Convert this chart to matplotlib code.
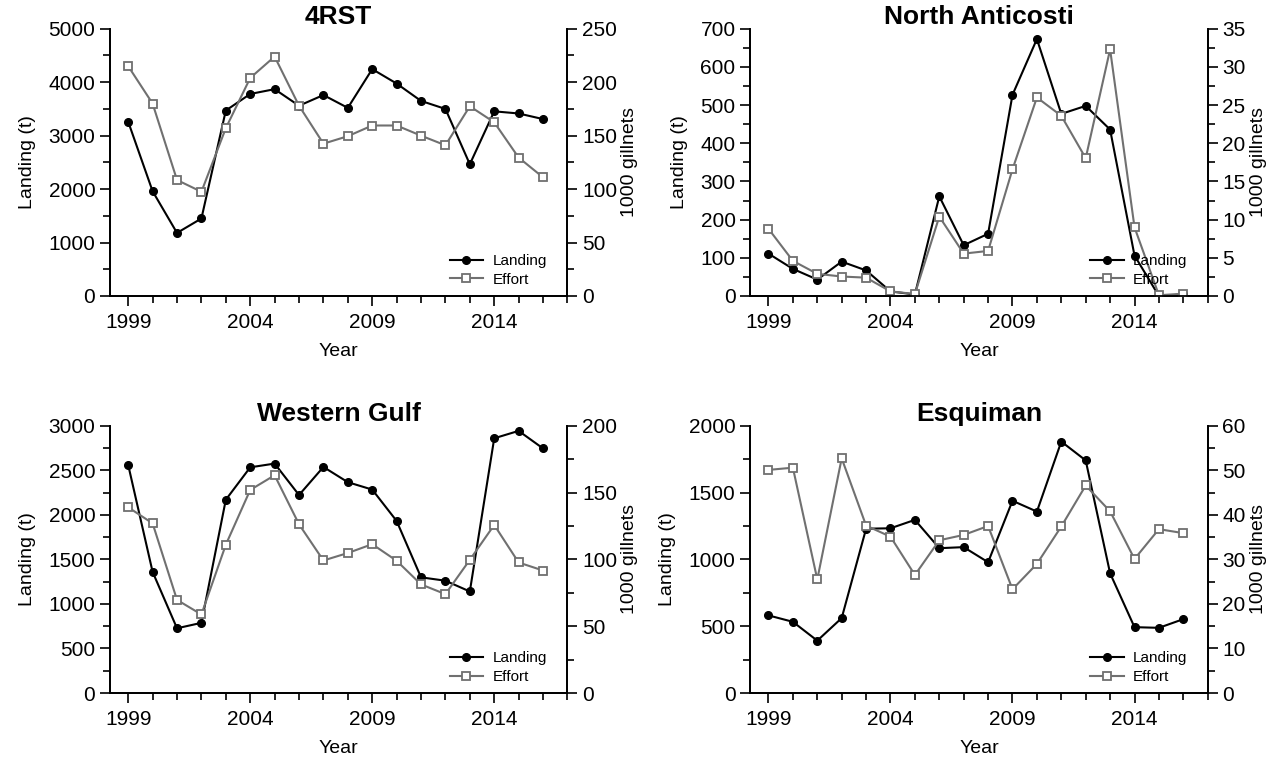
import numpy as np
import matplotlib
matplotlib.use("Agg")
import matplotlib.pyplot as plt
from matplotlib.ticker import MultipleLocator

plt.rcParams['font.family'] = ['Liberation Sans', 'DejaVu Sans']

# Landings (t) and effort (1000 gillnets) per area
years = np.arange(1999, 2017)

land_4rst = [3260, 1960, 1180, 1450, 3470, 3780, 3870, 3560, 3760, 3520,
             4245, 3975, 3650, 3500, 2465, 3455, 3415, 3310]
eff_4rst = [215, 180, 108.5, 97.5, 157, 204, 224, 178, 142.5, 149.5,
            159.5, 159.5, 150, 141, 177.5, 162.5, 129.5, 111]

land_nant = [111, 71, 43, 90, 67, 12, 4, 261, 133, 163,
             527, 673, 477, 498, 436, 106, 0, 4]
eff_nant = [8.8, 4.6, 2.9, 2.55, 2.4, 0.6, 0.26, 10.4, 5.55, 5.9,
            16.6, 26.0, 23.6, 18.05, 32.3, 9.0, 0.1, 0.3]

land_wgulf = [2560, 1360, 727, 788, 2170, 2534, 2576, 2223, 2538, 2367,
              2284, 1932, 1299, 1261, 1140, 2860, 2943, 2746]
eff_wgulf = [139, 127, 69.7, 58.8, 111, 152, 163, 126.3, 99.2, 104.8,
             111.4, 99, 81.3, 74, 99.7, 125.8, 97.7, 91.7]

land_esq = [581, 533, 392, 561, 1230, 1233, 1296, 1084, 1092, 979,
            1439, 1358, 1882, 1741, 896, 493, 488, 553]
eff_esq = [50.1, 50.6, 25.5, 52.7, 37.6, 35.1, 26.5, 34.3, 35.5, 37.5,
           23.3, 29.0, 37.4, 46.6, 40.8, 30.1, 36.8, 35.9]

titles = ['4RST', 'North Anticosti', 'Western Gulf', 'Esquiman']
landings = [land_4rst, land_nant, land_wgulf, land_esq]
efforts = [eff_4rst, eff_nant, eff_wgulf, eff_esq]
left_max = [5000, 700, 3000, 2000]
left_step = [1000, 100, 500, 500]
right_max = [250, 35, 200, 60]
right_step = [50, 5, 50, 10]

# axes positions (left, bottom, width, height) in figure fraction
positions = [[0.086, 0.609, 0.358, 0.353],
             [0.587, 0.609, 0.358, 0.353],
             [0.086, 0.0845, 0.358, 0.353],
             [0.587, 0.0845, 0.358, 0.353]]

fig = plt.figure(figsize=(12.78, 7.57), dpi=100)
gray = '#707070'

for i in range(4):
    ax = fig.add_axes(positions[i])
    ax2 = ax.twinx()

    l1, = ax.plot(years, landings[i], color='black', marker='o', markersize=5.5,
                  linewidth=1.5, label='Landing')
    l2, = ax2.plot(years, efforts[i], color=gray, marker='s', markersize=6,
                   markerfacecolor='white', markeredgecolor=gray,
                   markeredgewidth=1.3, linewidth=1.5, label='Effort')

    ax.set_xlim(1998.25, 2017.0)
    ax.set_ylim(0, left_max[i])
    ax2.set_ylim(0, right_max[i])

    ax.xaxis.set_minor_locator(MultipleLocator(1))
    ax.set_xticks([1999, 2004, 2009, 2014])
    ax.yaxis.set_major_locator(MultipleLocator(left_step[i]))
    ax.yaxis.set_minor_locator(MultipleLocator(left_step[i] / 2))
    ax2.yaxis.set_major_locator(MultipleLocator(right_step[i]))
    ax2.yaxis.set_minor_locator(MultipleLocator(right_step[i] / 2))

    for a in (ax, ax2):
        a.spines['top'].set_visible(False)
        for s in a.spines.values():
            s.set_linewidth(1.3)
        a.tick_params(which='major', direction='out', length=7, width=1.2,
                      labelsize=15)
        a.tick_params(which='minor', direction='out', length=5, width=1.2)
    ax.tick_params(axis='x', which='major', pad=5)

    ax.set_title(titles[i], fontsize=19, fontweight='bold', pad=1)
    ax.set_xlabel('Year', fontsize=14, labelpad=8)
    ax.set_ylabel('Landing (t)', fontsize=14, labelpad=9)
    ax2.set_ylabel('1000 gillnets', fontsize=14, labelpad=3)

    ax2.legend(handles=[l1, l2], loc='lower right', frameon=False,
               fontsize=11, handlelength=2.2, handletextpad=0.6,
               labelspacing=0.3, borderaxespad=0.2,
               bbox_to_anchor=(0.975, 0.0))

fig.savefig('out.png', dpi=100, facecolor='white')
